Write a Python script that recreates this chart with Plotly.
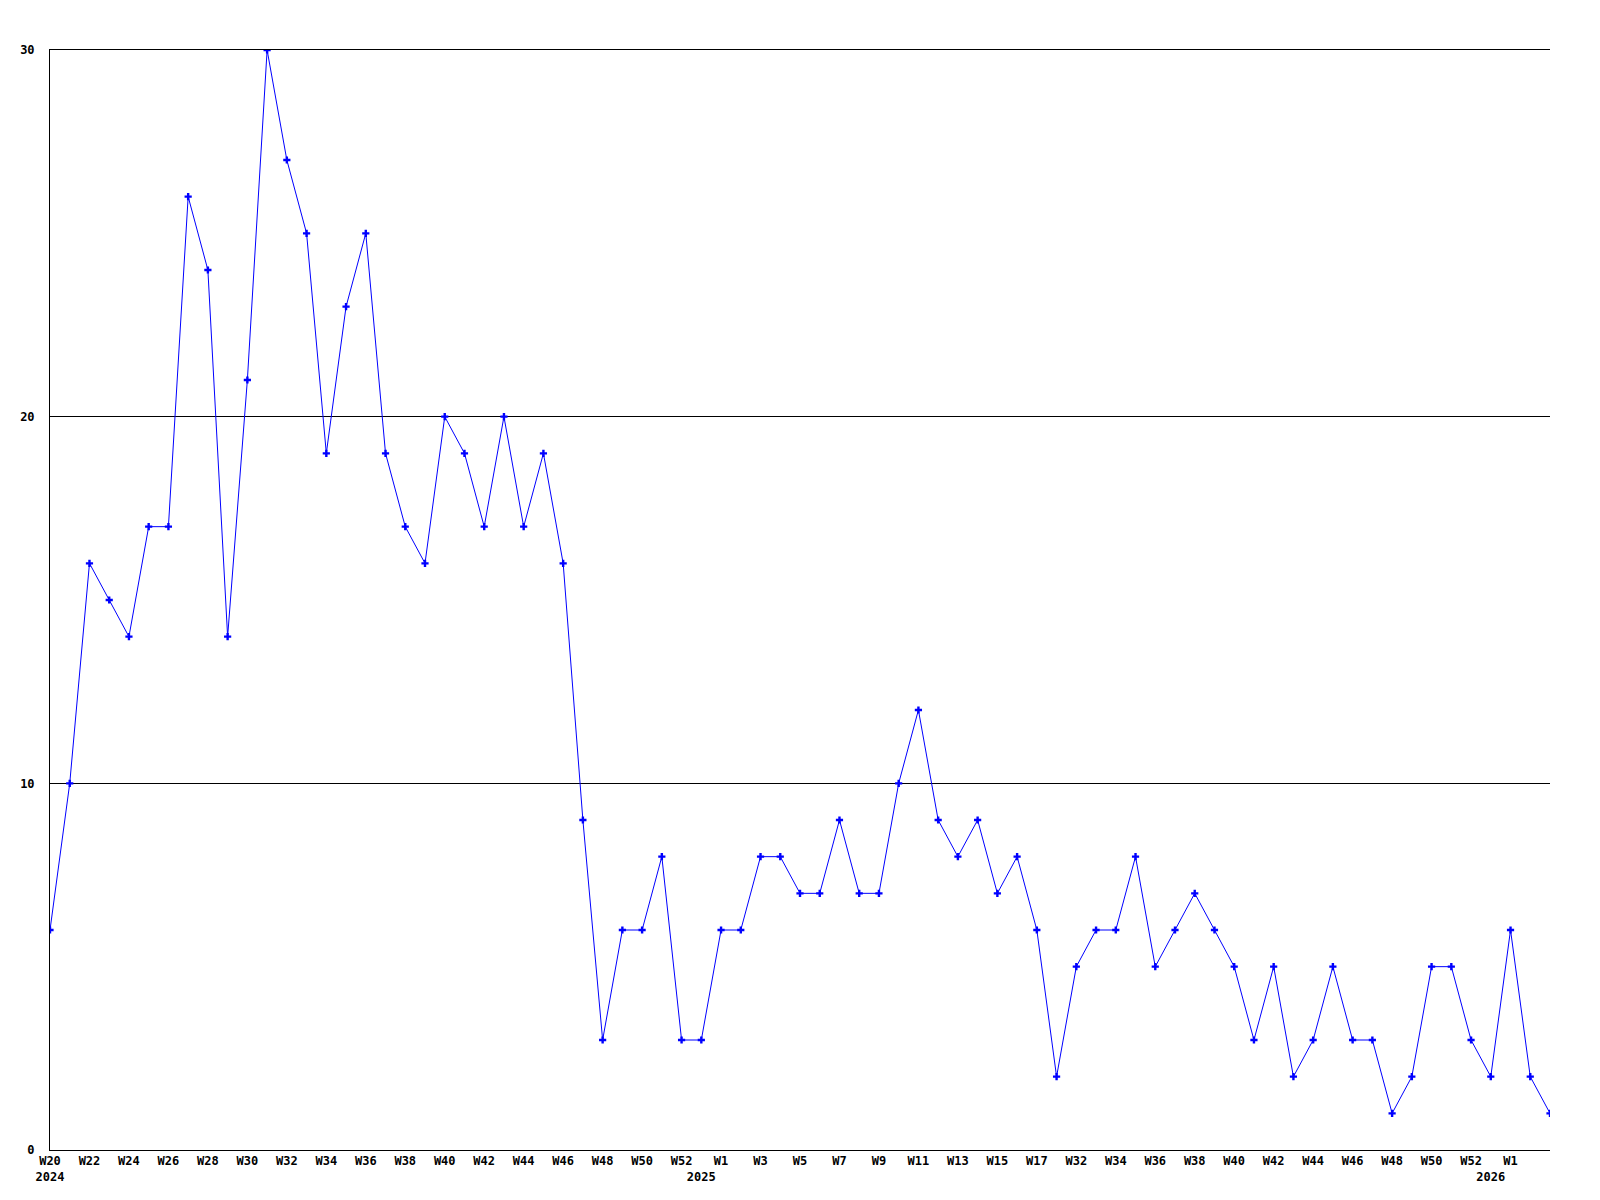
import plotly.graph_objects as go

# weekly counts, W20 2024 .. W3 2026 (77 points)
values = [6, 10, 16, 15, 14, 17, 17, 26, 24, 14,
          21, 30, 27, 25, 19, 23, 25, 19, 17, 16,
          20, 19, 17, 20, 17, 19, 16, 9, 3, 6,
          6, 8, 3, 3, 6, 6, 8, 8, 7, 7,
          9, 7, 7, 10, 12, 9, 8, 9, 7, 8,
          6, 2, 5, 6, 6, 8, 5, 6, 7, 6,
          5, 3, 5, 2, 3, 5, 3, 3, 1, 2,
          5, 5, 3, 2, 6, 2, 1]

# labelled ticks (every other point)
week_pos = list(range(0, 33, 2)) + list(range(34, 51, 2)) + list(range(52, 73, 2)) + [74]
week_text = ["W20", "W22", "W24", "W26", "W28", "W30", "W32", "W34", "W36", "W38",
             "W40", "W42", "W44", "W46", "W48", "W50", "W52",
             "W1", "W3", "W5", "W7", "W9", "W11", "W13", "W15", "W17",
             "W32", "W34", "W36", "W38", "W40", "W42", "W44", "W46", "W48", "W50", "W52",
             "W1"]
year_pos = [0, 33, 73]
year_text = ["2024", "2025", "2026"]

labels = {p: t for p, t in zip(week_pos, week_text)}
for p, y in zip(year_pos, year_text):
    labels[p] = labels.get(p, "") + "<br>" + y
tickvals = sorted(labels)
ticktext = [labels[p] for p in tickvals]

x = list(range(len(values)))

fig = go.Figure()
fig.add_trace(go.Scatter(
    x=x, y=values,
    mode="lines+markers",
    line=dict(color="#0000ff", width=1),
    marker=dict(symbol="cross", size=6, color="#0000ff"),
    hoverinfo="y"
))

tick_font = dict(family="DejaVu Sans Mono", size=12, color="black", weight="bold")

# page body adds 8px, so margins are shifted to compensate
fig.update_layout(
    width=1600, height=1200,
    showlegend=False,
    plot_bgcolor="white", paper_bgcolor="white",
    margin=dict(l=42, r=58, t=42, b=58),
    xaxis=dict(range=[0, len(values) - 1], tickvals=tickvals, ticktext=ticktext,
               showgrid=False, zeroline=False, showline=True, mirror=True,
               linecolor="black", linewidth=1, ticks="", tickfont=tick_font, tickangle=0),
    yaxis=dict(range=[0, 30], dtick=10, showgrid=True, gridcolor="black", gridwidth=1,
               zeroline=False, showline=True, linecolor="black", linewidth=1,
               ticks="", tickfont=tick_font, ticklabelstandoff=12),
)

fig.write_html("out.html")
